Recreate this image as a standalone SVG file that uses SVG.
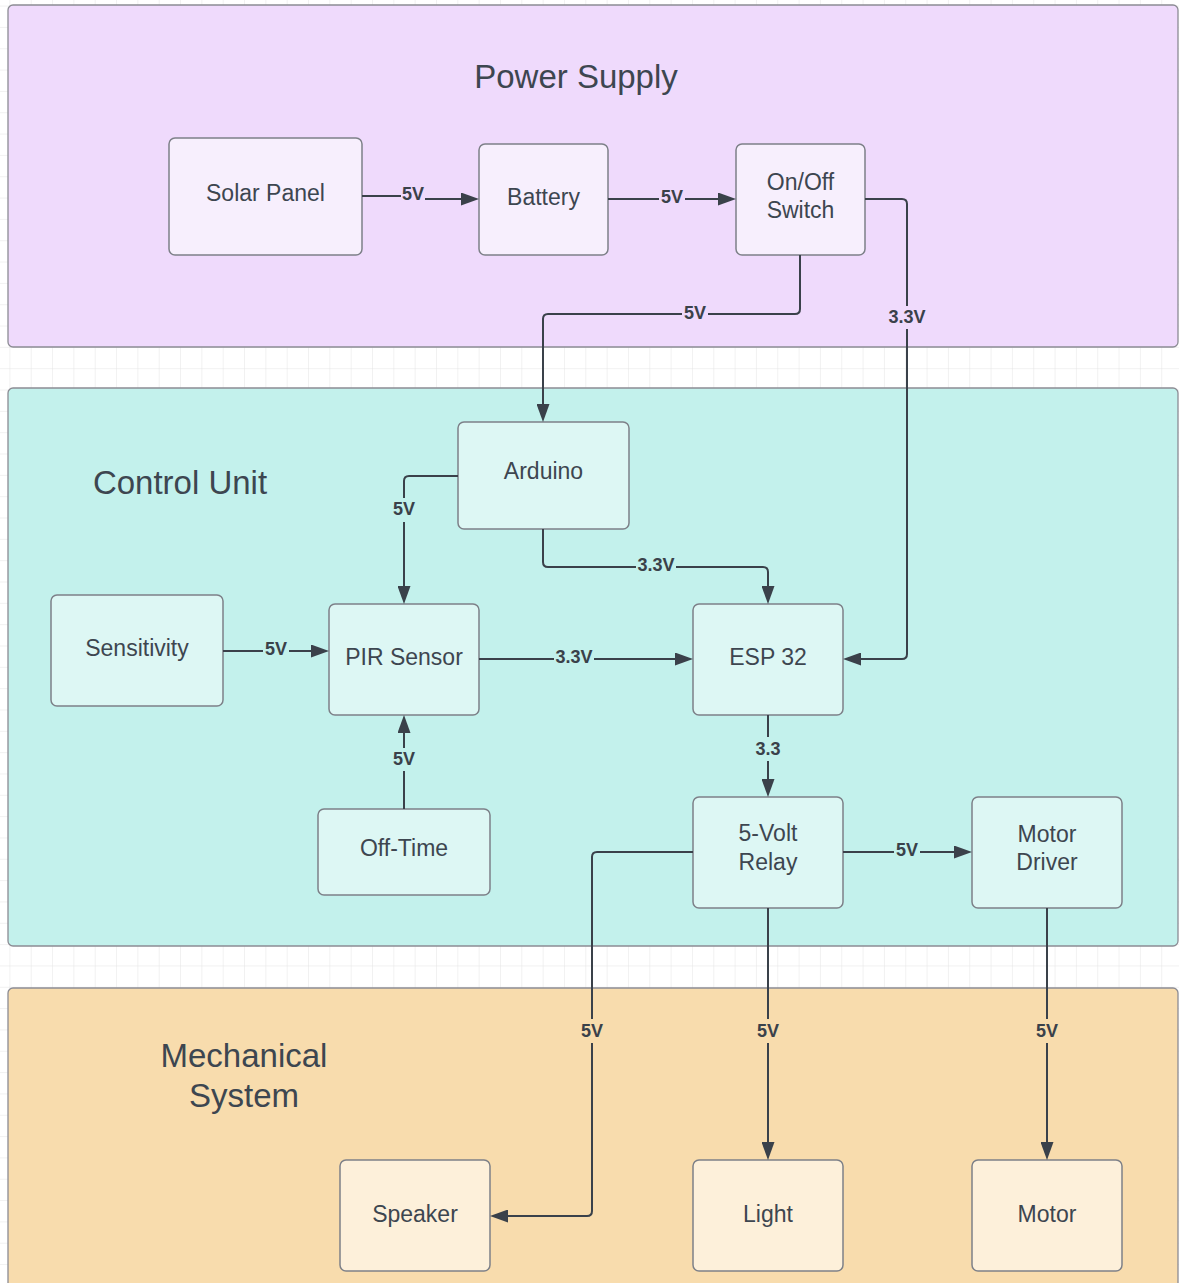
<svg xmlns="http://www.w3.org/2000/svg" width="1179" height="1283" viewBox="0 0 1179 1283">
<style>
.panel{stroke:#8c8c94;stroke-width:1.3}
.node{stroke:#7d8088;stroke-width:1.5}
.pw{fill:#efdafc}.pwn{fill:#f7effd}
.cu{fill:#c3f1ec}.cun{fill:#ddf7f4}
.ms{fill:#f8dcad}.msn{fill:#fdf0da}
.t{font-family:"Liberation Sans",Arial,sans-serif;font-size:23px;fill:#3d4650;text-anchor:middle}
.title{font-family:"Liberation Sans",Arial,sans-serif;font-size:33px;fill:#3d4650;text-anchor:middle}
.lbl{font-family:"Liberation Sans",Arial,sans-serif;font-size:18px;font-weight:bold;fill:#3a414a;text-anchor:middle}
.c{fill:none;stroke:#3a414a;stroke-width:2}
.a{marker-end:url(#arr)}
</style>
<defs>
<pattern id="grid" x="9.4" y="5.6" width="21.33" height="21.33" patternUnits="userSpaceOnUse">
<path d="M0,0 H21.33 M0,0 V21.33" fill="none" stroke="#e4e4e4" stroke-width="1"/>
</pattern>
<marker id="arr" markerUnits="userSpaceOnUse" markerWidth="18" markerHeight="13" refX="12" refY="6.5" orient="auto">
<path d="M0,0 L18,6.5 L0,13 z" fill="#3a414a"/>
</marker>
</defs>
<rect x="0" y="0" width="1179" height="1283" fill="#ffffff"/>
<rect x="0" y="0" width="1179" height="1283" fill="url(#grid)"/>

<g id="panels">
<rect id="power-supply-panel" class="panel pw" x="8" y="5" width="1170" height="342" rx="5"/>
<rect id="control-unit-panel" class="panel cu" x="8" y="388" width="1170" height="558" rx="5"/>
<rect id="mechanical-panel" class="panel ms" x="8" y="988" width="1170" height="310" rx="5"/>
<text class="title" x="576" y="88">Power Supply</text>
<text class="title" x="180" y="494">Control Unit</text>
<text class="title" x="244" y="1067">Mechanical</text>
<text class="title" x="244" y="1107">System</text>
</g>

<g id="nodes">
<g id="solar-panel"><rect class="node pwn" x="169" y="138" width="193" height="117" rx="6"/><text class="t" x="265.5" y="201">Solar Panel</text></g>
<g id="battery"><rect class="node pwn" x="479" y="144" width="129" height="111" rx="6"/><text class="t" x="543.5" y="205">Battery</text></g>
<g id="switch"><rect class="node pwn" x="736" y="144" width="129" height="111" rx="6"/><text class="t" x="800.5" y="190">On/Off</text><text class="t" x="800.5" y="218">Switch</text></g>

<g id="arduino"><rect class="node cun" x="458" y="422" width="171" height="107" rx="6"/><text class="t" x="543.5" y="479">Arduino</text></g>
<g id="sensitivity"><rect class="node cun" x="51" y="595" width="172" height="111" rx="6"/><text class="t" x="137" y="656">Sensitivity</text></g>
<g id="pir-sensor"><rect class="node cun" x="329" y="604" width="150" height="111" rx="6"/><text class="t" x="404" y="665">PIR Sensor</text></g>
<g id="esp32"><rect class="node cun" x="693" y="604" width="150" height="111" rx="6"/><text class="t" x="768" y="665">ESP 32</text></g>
<g id="off-time"><rect class="node cun" x="318" y="809" width="172" height="86" rx="6"/><text class="t" x="404" y="856">Off-Time</text></g>
<g id="relay"><rect class="node cun" x="693" y="797" width="150" height="111" rx="6"/><text class="t" x="768" y="841">5-Volt</text><text class="t" x="768" y="870">Relay</text></g>
<g id="motor-driver"><rect class="node cun" x="972" y="797" width="150" height="111" rx="6"/><text class="t" x="1047" y="842">Motor</text><text class="t" x="1047" y="870">Driver</text></g>

<g id="speaker"><rect class="node msn" x="340" y="1160" width="150" height="111" rx="6"/><text class="t" x="415" y="1222">Speaker</text></g>
<g id="light"><rect class="node msn" x="693" y="1160" width="150" height="111" rx="6"/><text class="t" x="768" y="1222">Light</text></g>
<g id="motor"><rect class="node msn" x="972" y="1160" width="150" height="111" rx="6"/><text class="t" x="1047" y="1222">Motor</text></g>
</g>

<g id="connectors">
<path class="c" d="M362,196 H401"/>
<path class="c a" d="M425,199 H473"/>
<text class="lbl" x="413" y="200">5V</text>

<path class="c a" d="M608,199 H730"/>
<rect class="pw" x="659" y="190" width="26" height="17"/>
<text class="lbl" x="672" y="203">5V</text>

<path class="c a" d="M800,255 V309 Q800,314 795,314 H548 Q543,314 543,319 V416"/>
<rect class="pw" x="682" y="305" width="26" height="17"/>
<text class="lbl" x="695" y="319">5V</text>

<path class="c a" d="M865,199 H902 Q907,199 907,204 V654 Q907,659 902,659 H849"/>
<rect class="pw" x="887" y="306" width="40" height="23"/>
<text class="lbl" x="907" y="323">3.3V</text>

<path class="c a" d="M458,476 H409 Q404,476 404,481 V598"/>
<rect class="cu" x="391" y="498" width="26" height="24"/>
<text class="lbl" x="404" y="515">5V</text>

<path class="c a" d="M543,529 V562 Q543,567 548,567 H763 Q768,567 768,572 V598"/>
<rect class="cu" x="636" y="557" width="40" height="17"/>
<text class="lbl" x="656" y="571">3.3V</text>

<path class="c a" d="M223,651 H323"/>
<rect class="cu" x="263" y="641" width="26" height="17"/>
<text class="lbl" x="276" y="655">5V</text>

<path class="c a" d="M479,659 H687"/>
<rect class="cu" x="554" y="649" width="40" height="17"/>
<text class="lbl" x="574" y="663">3.3V</text>

<path class="c a" d="M404,809 V721"/>
<rect class="cu" x="391" y="748" width="26" height="23"/>
<text class="lbl" x="404" y="765">5V</text>

<path class="c a" d="M768,715 V791"/>
<rect class="cu" x="752" y="737" width="32" height="24"/>
<text class="lbl" x="768" y="755">3.3</text>

<path class="c a" d="M843,852 H966"/>
<rect class="cu" x="894" y="842" width="26" height="17"/>
<text class="lbl" x="907" y="856">5V</text>

<path class="c a" d="M693,852 H597 Q592,852 592,857 V1211 Q592,1216 587,1216 H496"/>
<rect class="ms" x="579" y="1019" width="26" height="24"/>
<text class="lbl" x="592" y="1037">5V</text>

<path class="c a" d="M768,908 V1154"/>
<rect class="ms" x="755" y="1019" width="26" height="24"/>
<text class="lbl" x="768" y="1037">5V</text>

<path class="c a" d="M1047,908 V1154"/>
<rect class="ms" x="1034" y="1019" width="26" height="24"/>
<text class="lbl" x="1047" y="1037">5V</text>
</g>
</svg>
